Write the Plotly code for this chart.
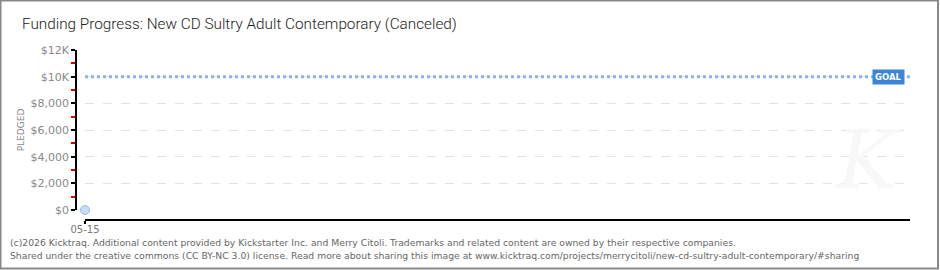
import plotly.graph_objects as go

# data
dates = ["2026-05-15"]
pledged = [0]
goal = 10000
x_range = ["2026-05-15", "2026-06-14"]
y_ticks = [0, 2000, 4000, 6000, 8000, 10000, 12000]
y_ticktext = ["$0", "$2,000", "$4,000", "$6,000", "$8,000", "$10K", "$12K"]
y_minor = [1000, 3000, 5000, 7000, 9000, 11000]
x_ticks = ["2026-05-15"]
x_ticktext = ["05-15"]

W, H = 940, 270
px = lambda v: v / W
py = lambda v: (H - v) / H

fig = go.Figure()
fig.add_trace(go.Scatter(
    x=dates, y=pledged, mode="markers",
    marker=dict(size=9, color="#c8dcf4", line=dict(color="#9ab8e0", width=1)),
    cliponaxis=False, showlegend=False, hoverinfo="skip"))

fig.add_shape(type="line", xref="x", yref="y", x0=x_range[0], x1=x_range[1],
              y0=goal, y1=goal, line=dict(color="#8db3e6", width=3, dash="dot"))

fig.update_layout(
    width=W, height=H, margin=dict(l=0, r=0, t=0, b=0, pad=0),
    paper_bgcolor="white", plot_bgcolor="white",
    font=dict(family="DejaVu Sans", color="#777"),
    xaxis=dict(domain=[px(85), px(910)], type="date", range=x_range,
               anchor="free", position=py(220), automargin=False,
               showline=True, linecolor="black", linewidth=2,
               tickvals=x_ticks, ticktext=x_ticktext, ticks="outside",
               ticklen=3, tickcolor="black", tickwidth=2, ticklabelstandoff=-3,
               tickfont=dict(size=10, color="#777"),
               showgrid=True, gridcolor="#e3e3e3", griddash="dash", zeroline=False),
    yaxis=dict(domain=[py(210), py(50)], range=[0, 12000],
               anchor="free", position=px(76), automargin=False,
               showline=True, linecolor="black", linewidth=1.5,
               tickvals=y_ticks, ticktext=y_ticktext, ticks="outside",
               ticklen=4, tickcolor="black", tickwidth=1.5,
               tickfont=dict(size=11, color="#888"),
               minor=dict(tickvals=y_minor, ticks="outside", ticklen=4,
                          tickcolor="#e00000", tickwidth=1.5, showgrid=False),
               showgrid=True, gridcolor="#e3e3e3", griddash="dash", zeroline=False,
               title=dict(text="PLEDGED", font=dict(size=9, color="#888"), standoff=3)),
)

fig.add_shape(type="rect", xref="paper", yref="paper",
              x0=px(0.5), x1=px(938), y0=py(268.5), y1=py(0.5),
              line=dict(color="#888", width=2))

fig.add_annotation(x=px(20), y=py(24), xref="paper", yref="paper", xanchor="left",
                   yanchor="middle", showarrow=False,
                   text="Funding Progress: New CD Sultry Adult Contemporary (Canceled)",
                   font=dict(family="Roboto", size=15.3, color="#222", weight=300))

fig.add_annotation(x=px(888), y=goal, xref="paper", yref="y", showarrow=False,
                   xanchor="center", yanchor="middle",
                   text="<b>GOAL</b>", font=dict(size=8.5, color="white"),
                   bgcolor="#3a86d6", borderpad=2)

fig.add_annotation(x=px(868), y=py(160), xref="paper", yref="paper", showarrow=False,
                   xanchor="center", yanchor="middle",
                   text="<i>K</i>", font=dict(family="DejaVu Serif", size=80, color="#f8f8f8"))

fig.add_annotation(x=px(8), y=py(242), xref="paper", yref="paper", xanchor="left",
                   yanchor="middle", showarrow=False, font=dict(size=9.25, color="#666"),
                   text="(c)2026 Kicktraq. Additional content provided by Kickstarter Inc. and Merry Citoli. Trademarks and related content are owned by their respective companies.")
fig.add_annotation(x=px(8), y=py(255), xref="paper", yref="paper", xanchor="left",
                   yanchor="middle", showarrow=False, font=dict(size=9.25, color="#666"),
                   text="Shared under the creative commons (CC BY-NC 3.0) license. Read more about sharing this image at www.kicktraq.com/projects/merrycitoli/new-cd-sultry-adult-contemporary/#sharing")

fig.write_html("out.html", post_script="document.body.style.margin='0';document.body.style.overflow='hidden';")
